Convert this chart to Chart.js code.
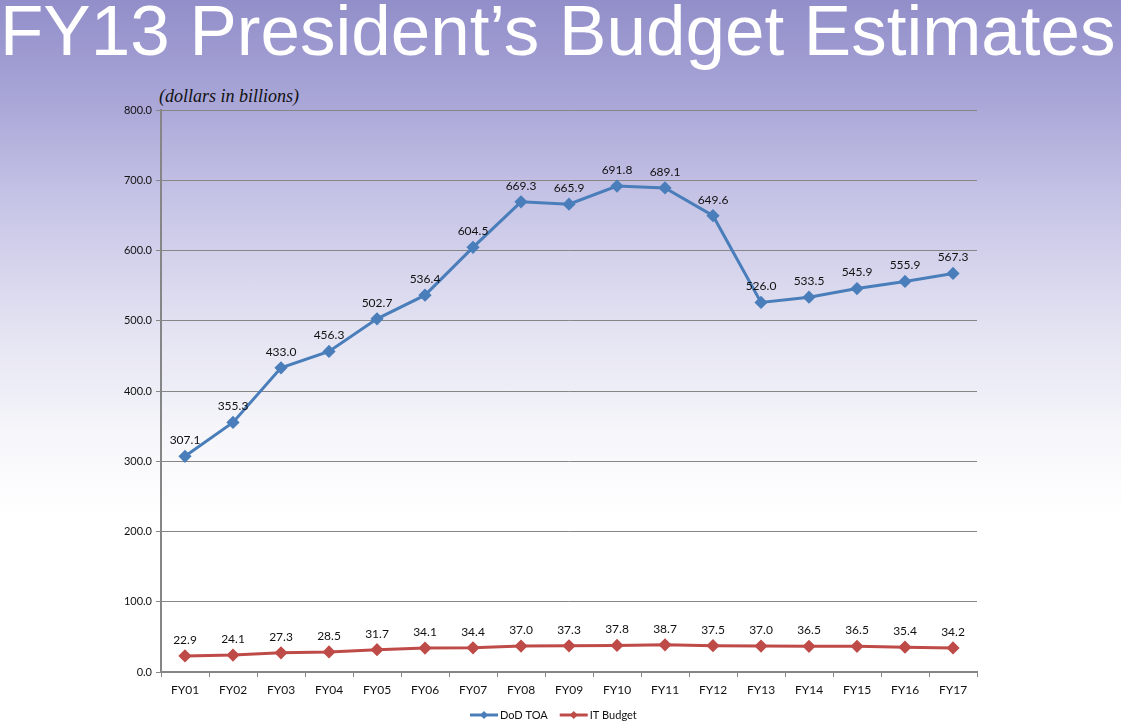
<!DOCTYPE html>
<html><head><meta charset="utf-8">
<script src="https://cdn.jsdelivr.net/npm/chart.js@4.4.1/dist/chart.umd.min.js"></script>
<style>
html,body{margin:0;padding:0;}
body{width:1121px;height:727px;overflow:hidden;position:relative;
background:linear-gradient(180deg,#928ec9 0px,#a6a3d6 90px,#c6c4e6 200px,#e4e3f2 330px,#f7f7fb 440px,#ffffff 520px);}
#title{position:absolute;left:0px;top:-5px;line-height:71px;font-family:"Liberation Sans",Arial,sans-serif;font-size:71px;color:#fff;white-space:nowrap;}
#sub{position:absolute;left:159px;top:85px;line-height:22px;font-family:"Liberation Serif","Times New Roman",serif;font-style:italic;font-size:18px;color:#111;}
#wrap{position:absolute;left:0;top:0;width:1121px;height:727px;}
</style></head>
<body>
<div id="title">FY13 President’s Budget Estimates</div>
<div id="sub">(dollars in billions)</div>
<div id="wrap"><canvas id="c" width="1121" height="727"></canvas></div>
<script>
const categories = ["FY01","FY02","FY03","FY04","FY05","FY06","FY07","FY08","FY09","FY10","FY11","FY12","FY13","FY14","FY15","FY16","FY17"];
const dodToa = [307.1,355.3,433.0,456.3,502.7,536.4,604.5,669.3,665.9,691.8,689.1,649.6,526.0,533.5,545.9,555.9,567.3];
const itBudget = [22.9,24.1,27.3,28.5,31.7,34.1,34.4,37.0,37.3,37.8,38.7,37.5,37.0,36.5,36.5,35.4,34.2];
const seriesNames = ["DoD TOA","IT Budget"];
const yTicks = [0,100,200,300,400,500,600,700,800];

const BLUE = "#4a7ebb", RED = "#be4b48";
const FONT = "Lato";

const labelPlugin = {
  id:'vals',
  afterDatasetsDraw(chart){
    const ctx = chart.ctx;
    ctx.save();
    ctx.font = "12px " + FONT;
    ctx.fillStyle = "#111";
    ctx.textAlign = "center";
    ctx.textBaseline = "bottom";
    chart.data.datasets.forEach((ds,i)=>{
      const meta = chart.getDatasetMeta(i);
      meta.data.forEach((pt,j)=>{
        ctx.fillText(ds.data[j].toFixed(1), pt.x, pt.y - 10);
      });
    });
    ctx.restore();
  }
};
const legendPlugin = {
  id:'leg',
  afterDraw(chart){
    const ctx = chart.ctx;
    ctx.save();
    ctx.font = "11px " + FONT;
    ctx.textBaseline = "middle";
    const y = 715;
    const items = [[seriesNames[0],BLUE],[seriesNames[1],RED]];
    let x = 470;
    items.forEach(([name,col])=>{
      ctx.strokeStyle = col; ctx.lineWidth = 3;
      ctx.beginPath(); ctx.moveTo(x,y); ctx.lineTo(x+28,y); ctx.stroke();
      ctx.fillStyle = col;
      ctx.beginPath(); ctx.moveTo(x+14,y-4); ctx.lineTo(x+18,y); ctx.lineTo(x+14,y+4); ctx.lineTo(x+10,y); ctx.closePath(); ctx.fill();
      ctx.fillStyle = "#111";
      ctx.fillText(name, x+30, y);
      x += 30 + ctx.measureText(name).width + 12;
    });
    ctx.restore();
  }
};

new Chart(document.getElementById('c'),{
  type:'line',
  data:{labels:categories,datasets:[
    {label:seriesNames[0],data:dodToa,borderColor:BLUE,backgroundColor:BLUE,borderWidth:3,pointStyle:'rectRot',pointRadius:4.5,pointHoverRadius:4.5,tension:0},
    {label:seriesNames[1],data:itBudget,borderColor:RED,backgroundColor:RED,borderWidth:3,pointStyle:'rectRot',pointRadius:4.5,pointHoverRadius:4.5,tension:0}
  ]},
  options:{
    responsive:false,animation:false,
    layout:{padding:{top:110,right:144,left:0,bottom:0}},
    plugins:{legend:{display:false},tooltip:{enabled:false},title:{display:false}},
    scales:{
      x:{offset:true,
        grid:{offset:true,drawOnChartArea:false,drawTicks:true,tickLength:5,color:"#868686",lineWidth:1},
        border:{display:true,color:"#868686",width:2},
        ticks:{font:{family:FONT,size:12},color:"#111",padding:6,maxRotation:0,autoSkip:false},
        afterFit(s){s.height=55;}
      },
      y:{min:0,max:800,
        afterBuildTicks(s){s.ticks=yTicks.map(v=>({value:v}));},
        grid:{color:"#868686",lineWidth:1,tickLength:5,drawTicks:true},
        border:{display:true,color:"#868686",width:2},
        ticks:{font:{family:FONT,size:11},color:"#111",padding:4,callback:v=>Number(v).toFixed(1)},
        afterFit(s){s.width=161;}
      }
    }
  },
  plugins:[labelPlugin,legendPlugin]
});
</script>
</body></html>
